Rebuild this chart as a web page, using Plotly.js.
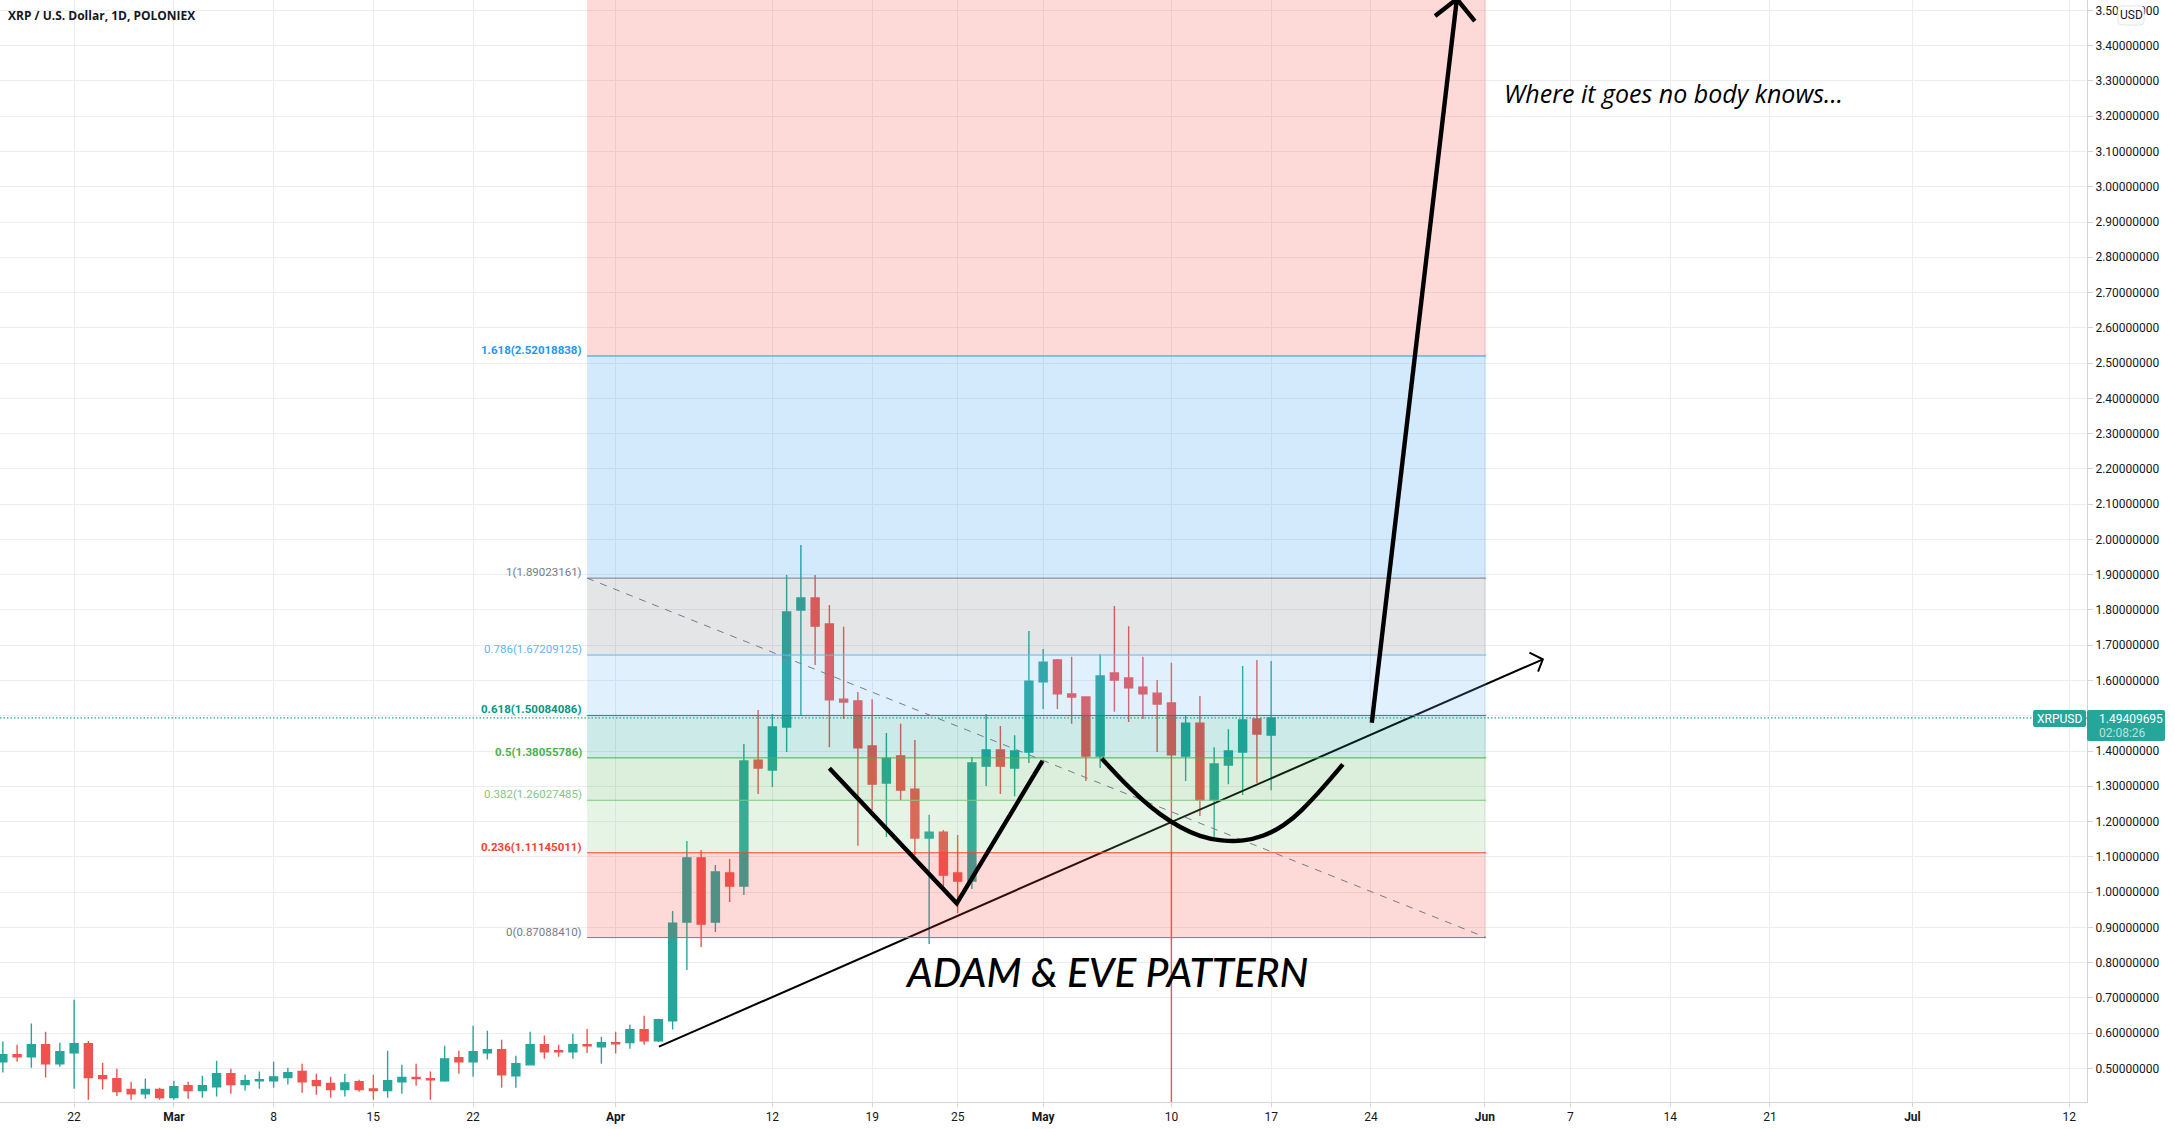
<!DOCTYPE html>
<html>
<head>
<meta charset="utf-8">
<script src="https://cdn.plot.ly/plotly-3.0.1.min.js"></script>
<style>html,body{margin:0;padding:0;background:#fff;overflow:hidden}</style>
</head>
<body>
<div id="chart" style="width:2175px;height:1129px"></div>
<script>
// ---- candle data, one row per day from 2021-02-17 ----
const firstDay = '2021-02-17';
const openPrices = [.519,.539,.533,.567,.513,.544,.570,.479,.471,.440,.428,.440,
 .417,.451,.437,.448,.485,.454,.465,.465,.474,.491,.465,.457,.440,.462,.442,.437,.462,.474,.471,.465,.530,.519,.544,.553,.479,.510,.567,.550,.547,.567,.561,
 .573,.573,.610,.578,.635,.915,1.097,.915,1.054,1.017,1.374,1.346,1.468,1.800,1.834,1.760,1.547,1.542,1.414,1.309,1.386,1.292,1.153,1.170,1.054,1.031,1.357,1.403,1.352,1.397,
 1.596,1.658,1.562,1.553,1.386,1.621,1.607,1.581,1.564,1.536,1.386,1.479,1.261,1.360,1.397,1.491,1.445];
const highPrices = [.576,.567,.627,.604,.573,.695,.578,.516,.499,.462,.471,.445,
 .465,.462,.479,.522,.499,.482,.491,.519,.502,.513,.485,.476,.485,.468,.482,.550,.510,.513,.491,.564,.550,.621,.607,.581,.536,.604,.593,.567,.598,.612,.590,
 .604,.624,.649,.641,.946,1.145,1.119,1.077,1.094,1.420,1.516,1.505,1.899,1.984,1.899,1.814,1.752,1.567,1.547,1.451,1.477,1.431,1.219,1.176,1.162,1.383,1.505,1.471,1.445,1.740,
 1.689,1.661,1.667,1.553,1.675,1.811,1.754,1.667,1.601,1.650,1.499,1.556,1.411,1.462,1.641,1.658,1.655];
const lowPrices = [.488,.519,.502,.474,.505,.442,.411,.440,.422,.411,.414,.411,
 .411,.414,.417,.420,.428,.437,.442,.445,.454,.431,.425,.417,.420,.434,.411,.417,.428,.451,.411,.462,.485,.476,.525,.445,.445,.510,.527,.533,.527,.544,.513,
 .542,.556,.567,.575,.610,.779,.844,.887,.972,.992,1.278,1.298,1.397,1.499,1.644,1.411,1.491,1.131,1.233,1.156,1.261,1.105,.853,1.006,.940,1.009,1.301,1.278,1.272,1.366,
 1.519,1.519,1.477,1.315,1.352,1.511,1.482,1.491,1.397,.40,1.315,1.216,1.150,1.306,1.275,1.309,1.289];
const closePrices = [.539,.533,.567,.513,.547,.570,.474,.471,.434,.428,.440,.417,
 .448,.437,.451,.485,.454,.465,.468,.476,.488,.462,.451,.440,.459,.440,.437,.465,.474,.471,.468,.527,.519,.547,.553,.482,.513,.567,.547,.547,.567,.564,.573,
 .570,.610,.578,.638,.912,1.097,.909,1.057,1.017,1.372,1.352,1.468,1.794,1.834,1.754,1.545,1.539,1.409,1.306,1.379,1.289,1.153,1.170,1.048,1.031,1.366,1.403,1.357,1.400,1.598,
 1.652,1.562,1.553,1.386,1.613,1.601,1.579,1.562,1.533,1.389,1.479,1.261,1.363,1.400,1.488,1.448,1.494];

// ---- fibonacci tool ----
const fibStart = '2021-03-30';
const fibEnd = '2021-06-01 02:00';
const fibRatios = ['0','0.236','0.382','0.5','0.618','0.786','1','1.618'];
const fibPrices = [0.87088410,1.11145011,1.26027485,1.38055786,1.50084086,1.67209125,1.89023161,2.52018838];

// ---- hand drawings, as date / price ----
const trendDates = ['2021-04-04 01:00','2021-06-05 01:30'];
const trendPrices = [0.5615,1.660];
const trendHeadDates = ['2021-06-04 03:00','2021-06-05 01:30','2021-06-04 17:30'];
const trendHeadPrices = [1.6787,1.660,1.6249];
const adamDates = ['2021-04-16 00:00','2021-04-24 22:30','2021-04-30 23:00'];
const adamPrices = [1.351,0.968,1.372];
const eveDates = ['2021-05-05 02:40','2021-05-06 04:00','2021-05-07 08:00','2021-05-08 12:00','2021-05-09 22:00','2021-05-11 07:30','2021-05-12 17:00','2021-05-14 08:30','2021-05-15 18:00','2021-05-17 04:00','2021-05-18 13:30','2021-05-19 17:30','2021-05-20 21:40','2021-05-22 00:45'];
const evePrices = [1.379,1.332,1.285,1.242,1.200,1.169,1.150,1.143,1.150,1.171,1.209,1.256,1.308,1.362];
const bigArrowDates = ['2021-05-24 01:30','2021-05-30 00:45'];
const bigArrowPrices = [1.480,3.5324];
const bigHeadDates = ['2021-05-28 12:00','2021-05-30 00:45','2021-05-31 07:00'];
const bigHeadPrices = [3.4842,3.5324,3.470];

// ---- axis labels ----
const xTickDates = ['2021-02-22','2021-03-01','2021-03-08','2021-03-15','2021-03-22','2021-04-01','2021-04-12','2021-04-19','2021-04-25','2021-05-01','2021-05-10','2021-05-17','2021-05-24','2021-06-01','2021-06-07','2021-06-14','2021-06-21','2021-07-01','2021-07-12'];
const xTickLabels = ['22','<b>Mar</b>','8','15','22','<b>Apr</b>','12','19','25','<b>May</b>','10','17','24','<b>Jun</b>','7','14','21','<b>Jul</b>','12'];
const yTickValues = [0.5,0.6,0.7,0.8,0.9,1.0,1.1,1.2,1.3,1.4,1.5,1.6,1.7,1.8,1.9,2.0,2.1,2.2,2.3,2.4,2.5,2.6,2.7,2.8,2.9,3.0,3.1,3.2,3.3,3.4,3.5];
const lastPrice = 1.49409695;
const countdown = '02:08:26';

// ---- styles ----
const UP = '#26a69a', DOWN = '#ef5350';
const W = 2175, H = 1129, mR = 88, mB = 27, PW = W - mR, PH = H - mB;
const xRange = ['2021-02-16 19:12','2021-07-13 06:00'];
const yRange = [0.4047,3.5296];
const fibLine = ['#787b86','#f44336','#81c784','#4caf50','#009688','#64b5f6','#787b86','#2196f3'];
const fibFill = ['rgba(244,67,54,.2)','rgba(129,199,132,.2)','rgba(76,175,80,.2)','rgba(0,150,136,.2)','rgba(100,181,246,.2)','rgba(120,123,134,.2)','rgba(33,150,243,.2)','rgba(244,67,54,.2)'];
const fibBold = [false,true,false,true,true,false,false,true];
const UI = 'Roboto, sans-serif';
const GRID = '#ededf0';

const days = openPrices.map((_, i) => {
  const d = new Date(firstDay + 'T00:00:00Z');
  d.setUTCDate(d.getUTCDate() + i);
  return d.toISOString().slice(0, 10);
});

const pathOf = (xs, ys) => xs.map((x, i) => (i ? 'L ' : 'M ') + x.replace(' ', '_') + ',' + ys[i]).join(' ');
// smooth stroke through the read points: each read point is a control point, segments join at the midpoints
const smoothPathOf = (xs, ys) => {
  const t = xs.map(s => Date.parse(s.replace(' ', 'T') + ':00Z'));
  const f = ms => new Date(ms).toISOString().slice(0, 19).replace('T', '_');
  let p = 'M ' + f(t[0]) + ',' + ys[0];
  for (let i = 1; i < t.length - 1; i++) {
    const last = i === t.length - 2;
    const ex = last ? t[i + 1] : (t[i] + t[i + 1]) / 2;
    const ey = last ? ys[i + 1] : (ys[i] + ys[i + 1]) / 2;
    p += ' Q ' + f(t[i]) + ',' + ys[i] + ' ' + f(ex) + ',' + ey;
  }
  return p;
};
const pxBox = (x0, y0, x1, y1, r) => {
  const X = v => v / PW, Y = v => 1 - v / PH;
  return `M ${X(x0 + r)},${Y(y0)} L ${X(x1 - r)},${Y(y0)} Q ${X(x1)},${Y(y0)} ${X(x1)},${Y(y0 + r)} L ${X(x1)},${Y(y1 - r)} Q ${X(x1)},${Y(y1)} ${X(x1 - r)},${Y(y1)} L ${X(x0 + r)},${Y(y1)} Q ${X(x0)},${Y(y1)} ${X(x0)},${Y(y1 - r)} L ${X(x0)},${Y(y0 + r)} Q ${X(x0)},${Y(y0)} ${X(x0 + r)},${Y(y0)} Z`;
};

const traces = [
  {type:'candlestick', x:days, open:openPrices, high:highPrices, low:lowPrices, close:closePrices,
   whiskerwidth:0, hoverinfo:'skip',
   increasing:{line:{color:UP,width:1.4},fillcolor:UP},
   decreasing:{line:{color:DOWN,width:1.4},fillcolor:DOWN}},
  {type:'scatter', mode:'lines', x:trendDates, y:trendPrices, hoverinfo:'skip', line:{color:'#000',width:2}},
  {type:'scatter', mode:'lines', x:trendHeadDates, y:trendHeadPrices, hoverinfo:'skip', line:{color:'#000',width:2}}
];

const shapes = [];
fibPrices.forEach((p, i) => {
  const top = i + 1 < fibPrices.length ? fibPrices[i + 1] : yRange[1];
  shapes.push({type:'rect', layer:'above', xref:'x', yref:'y', x0:fibStart, x1:fibEnd, y0:p, y1:top, fillcolor:fibFill[i], line:{width:0}});
});
fibPrices.forEach((p, i) => {
  shapes.push({type:'line', layer:'above', xref:'x', yref:'y', x0:fibStart, x1:fibEnd, y0:p, y1:p, line:{color:fibLine[i],width:1}});
});
shapes.push({type:'line', layer:'above', xref:'x', yref:'y', x0:fibStart, x1:fibEnd, y0:fibPrices[6], y1:fibPrices[0], line:{color:'#787b86',width:1,dash:'7px 7px'}});
shapes.push({type:'line', layer:'above', xref:'x', yref:'y', x0:xRange[0], x1:xRange[1], y0:lastPrice, y1:lastPrice, line:{color:UP,width:1.3,dash:'1.5px 2px'}});
const heavy = {color:'#000',width:4.4};
shapes.push({type:'path', layer:'above', xref:'x', yref:'y', path:pathOf(adamDates,adamPrices), line:heavy});
shapes.push({type:'path', layer:'above', xref:'x', yref:'y', path:smoothPathOf(eveDates,evePrices), line:heavy});
shapes.push({type:'path', layer:'above', xref:'x', yref:'y', path:pathOf(bigArrowDates,bigArrowPrices), line:heavy});
shapes.push({type:'path', layer:'above', xref:'x', yref:'y', path:pathOf(bigHeadDates,bigHeadPrices), line:heavy});
// price tags and currency badge on the right
shapes.push({type:'path', layer:'above', xref:'paper', yref:'paper', path:pxBox(2033,710,2086,727,2), fillcolor:UP, line:{width:0}});
shapes.push({type:'path', layer:'above', xref:'paper', yref:'paper', path:pxBox(2087,710,2165,741,2), fillcolor:UP, line:{width:0}});
shapes.push({type:'path', layer:'above', xref:'paper', yref:'paper', path:pxBox(2118,6,2144,25,4), fillcolor:'#fff', line:{color:'#e0e3eb',width:1}});

const annotations = fibRatios.map((r, i) => {
  const label = r + '(' + fibPrices[i].toFixed(8) + ')';
  return {xref:'x', yref:'y', x:fibStart, y:fibPrices[i], xanchor:'right', yanchor:'middle', xshift:-3, yshift:6, showarrow:false,
    text: fibBold[i] ? '<b>' + label + '</b>' : label, font:{family:UI, size:11.5, color:fibLine[i]}};
});
annotations.push(
  {xref:'x', yref:'y', x:'2021-05-05 11:30', y:0.774, xanchor:'center', yanchor:'middle', showarrow:false, text:'<i>ADAM &amp; EVE PATTERN</i>', font:{family:'Lato, sans-serif', size:40.5, weight:500, color:'#000'}},
  {xref:'x', yref:'y', x:'2021-06-02 04:00', y:3.266, xanchor:'left', yanchor:'middle', showarrow:false, text:'<i>Where it goes no body knows...</i>', font:{family:'"Open Sans", sans-serif', size:25, color:'#000'}},
  {xref:'paper', yref:'paper', x:5.5/PW, y:1-16/PH, xanchor:'left', yanchor:'middle', showarrow:false, text:'<b>XRP / U.S. Dollar, 1D, POLONIEX</b>', font:{family:'"Open Sans", sans-serif', size:12, color:'#131722'}},
  {xref:'paper', yref:'paper', x:2059.5/PW, y:1-718.5/PH, xanchor:'center', yanchor:'middle', showarrow:false, text:'XRPUSD', font:{family:UI, size:12, color:'#fff'}},
  {xref:'paper', yref:'paper', x:2097/PW, y:1-719/PH, xanchor:'left', yanchor:'middle', showarrow:false, text:lastPrice.toFixed(8), font:{family:UI, size:12, color:'#fff'}},
  {xref:'paper', yref:'paper', x:2097/PW, y:1-733/PH, xanchor:'left', yanchor:'middle', showarrow:false, text:countdown, font:{family:UI, size:12, color:'#b5e3de'}},
  {xref:'paper', yref:'paper', x:2131/PW, y:1-15.5/PH, xanchor:'center', yanchor:'middle', showarrow:false, text:'USD', font:{family:UI, size:12, color:'#131722'}}
);

const layout = {
  width:W, height:H, margin:{l:0,r:mR,t:0,b:mB,pad:0}, showlegend:false, hovermode:false,
  paper_bgcolor:'#fff', plot_bgcolor:'#fff', boxgap:0.2,
  xaxis:{type:'date', range:xRange, rangeslider:{visible:false}, tickmode:'array', tickvals:xTickDates, ticktext:xTickLabels,
    showgrid:true, gridcolor:GRID, gridwidth:1, zeroline:false, ticks:'outside', ticklen:4, tickcolor:'#d1d4dc',
    showline:true, linecolor:'#d1d4dc', linewidth:1, tickfont:{family:UI,size:12,color:'#131722'}},
  yaxis:{side:'right', range:yRange, tickmode:'array', tickvals:yTickValues, ticktext:yTickValues.map(v=> v===Math.round(lastPrice*10)/10 ? '' : v.toFixed(8)),
    showgrid:true, gridcolor:GRID, gridwidth:1, zeroline:false, ticks:'outside', ticklen:5, tickcolor:'#d1d4dc',
    showline:true, linecolor:'#d1d4dc', linewidth:1, tickfont:{family:UI,size:12,color:'#131722'}},
  shapes, annotations
};
Plotly.newPlot('chart', traces, layout, {displayModeBar:false, responsive:false});
</script>
</body>
</html>
